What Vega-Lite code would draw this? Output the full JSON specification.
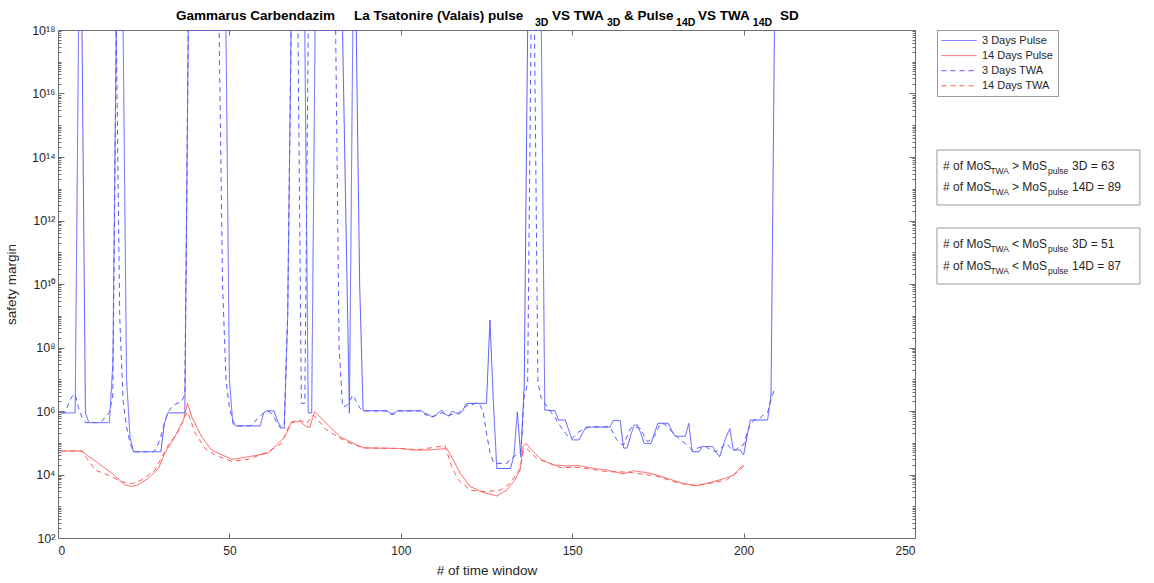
{
 "$schema": "https://vega.github.io/schema/vega-lite/v6.json",
 "width": 857, "height": 508,
 "autosize": {"type": "none"},
 "padding": {"left": 58, "top": 30, "right": 239, "bottom": 45},
 "background": "white",
 "config": {
  "view": {"stroke": null},
  "font": "Liberation Sans",
  "axis": {"grid": false, "domainColor": "#6e6e6e", "tickColor": "#6e6e6e", "labelColor": "#262626", "titleColor": "#262626", "labelFont": "Liberation Sans", "titleFont": "Liberation Sans", "labelFontSize": 12, "titleFontSize": 13.5, "titleFontWeight": "normal", "domainWidth": 1, "tickWidth": 1}
 },
 "resolve": {"axis": {"x": "independent", "y": "independent"}},
 "datasets": {
  "lines": [
   {"series":"3 Days Pulse","t":1,"mos":8.7e5},{"series":"3 Days Pulse","t":5,"mos":8.7e5},{"series":"3 Days Pulse","t":6,"mos":1e18},{"series":"3 Days Pulse","t":7,"mos":1e18},{"series":"3 Days Pulse","t":8,"mos":8.7e5},{"series":"3 Days Pulse","t":9,"mos":4.3e5},{"series":"3 Days Pulse","t":15,"mos":4.3e5},{"series":"3 Days Pulse","t":16,"mos":3.2e7},{"series":"3 Days Pulse","t":17,"mos":1e18},{"series":"3 Days Pulse","t":19,"mos":1e18},{"series":"3 Days Pulse","t":20,"mos":1e7},{"series":"3 Days Pulse","t":21,"mos":1.6e5},{"series":"3 Days Pulse","t":22,"mos":5.2e4},{"series":"3 Days Pulse","t":30,"mos":5.2e4},{"series":"3 Days Pulse","t":31,"mos":4e5},{"series":"3 Days Pulse","t":32,"mos":8.7e5},{"series":"3 Days Pulse","t":37,"mos":8.7e5},{"series":"3 Days Pulse","t":38,"mos":1e18},{"series":"3 Days Pulse","t":49,"mos":1e18},{"series":"3 Days Pulse","t":50,"mos":1e7},{"series":"3 Days Pulse","t":51,"mos":4e5},{"series":"3 Days Pulse","t":52,"mos":3.4e5},{"series":"3 Days Pulse","t":59,"mos":3.4e5},{"series":"3 Days Pulse","t":60,"mos":8.9e5},{"series":"3 Days Pulse","t":61,"mos":1.02e6},{"series":"3 Days Pulse","t":62,"mos":1.02e6},{"series":"3 Days Pulse","t":63,"mos":1e6},{"series":"3 Days Pulse","t":64,"mos":5e5},{"series":"3 Days Pulse","t":65,"mos":3.2e5},{"series":"3 Days Pulse","t":66,"mos":2.8e5},{"series":"3 Days Pulse","t":67,"mos":1e9},{"series":"3 Days Pulse","t":68,"mos":1e18},{"series":"3 Days Pulse","t":72,"mos":1e18},{"series":"3 Days Pulse","t":73,"mos":8.7e5},{"series":"3 Days Pulse","t":74,"mos":8.7e5},{"series":"3 Days Pulse","t":75,"mos":1e18},{"series":"3 Days Pulse","t":83,"mos":1e18},{"series":"3 Days Pulse","t":84,"mos":1e12},{"series":"3 Days Pulse","t":85,"mos":8.5e5},{"series":"3 Days Pulse","t":86,"mos":1e18},{"series":"3 Days Pulse","t":87,"mos":1e18},{"series":"3 Days Pulse","t":88,"mos":1e10},{"series":"3 Days Pulse","t":89,"mos":1.02e6},{"series":"3 Days Pulse","t":96,"mos":1.02e6},{"series":"3 Days Pulse","t":97,"mos":8.5e5},{"series":"3 Days Pulse","t":98,"mos":8.5e5},{"series":"3 Days Pulse","t":99,"mos":1.02e6},{"series":"3 Days Pulse","t":106,"mos":1.02e6},{"series":"3 Days Pulse","t":107,"mos":8.5e5},{"series":"3 Days Pulse","t":108,"mos":7.9e5},{"series":"3 Days Pulse","t":109,"mos":6.6e5},{"series":"3 Days Pulse","t":110,"mos":7.1e5},{"series":"3 Days Pulse","t":111,"mos":8.9e5},{"series":"3 Days Pulse","t":112,"mos":1.07e6},{"series":"3 Days Pulse","t":113,"mos":7.9e5},{"series":"3 Days Pulse","t":114,"mos":6.9e5},{"series":"3 Days Pulse","t":115,"mos":1e6},{"series":"3 Days Pulse","t":116,"mos":8.9e5},{"series":"3 Days Pulse","t":117,"mos":7.9e5},{"series":"3 Days Pulse","t":118,"mos":1e6},{"series":"3 Days Pulse","t":119,"mos":1.66e6},{"series":"3 Days Pulse","t":120,"mos":1.74e6},{"series":"3 Days Pulse","t":125,"mos":1.74e6},{"series":"3 Days Pulse","t":126,"mos":7.4e8},{"series":"3 Days Pulse","t":127,"mos":2e6},{"series":"3 Days Pulse","t":128,"mos":1.55e4},{"series":"3 Days Pulse","t":132,"mos":1.55e4},{"series":"3 Days Pulse","t":133,"mos":4e4},{"series":"3 Days Pulse","t":134,"mos":9.5e5},{"series":"3 Days Pulse","t":135,"mos":3.6e4},{"series":"3 Days Pulse","t":136,"mos":5.9e6},{"series":"3 Days Pulse","t":137,"mos":1e18},{"series":"3 Days Pulse","t":141,"mos":1e18},{"series":"3 Days Pulse","t":142,"mos":1.07e6},{"series":"3 Days Pulse","t":145,"mos":1.02e6},{"series":"3 Days Pulse","t":146,"mos":5.2e5},{"series":"3 Days Pulse","t":148,"mos":5.2e5},{"series":"3 Days Pulse","t":149,"mos":2.5e5},{"series":"3 Days Pulse","t":150,"mos":1.23e5},{"series":"3 Days Pulse","t":152,"mos":1.23e5},{"series":"3 Days Pulse","t":153,"mos":2e5},{"series":"3 Days Pulse","t":154,"mos":3.1e5},{"series":"3 Days Pulse","t":161,"mos":3.1e5},{"series":"3 Days Pulse","t":162,"mos":5e5},{"series":"3 Days Pulse","t":164,"mos":5e5},{"series":"3 Days Pulse","t":165,"mos":6.8e4},{"series":"3 Days Pulse","t":166,"mos":6.8e4},{"series":"3 Days Pulse","t":167,"mos":1.6e5},{"series":"3 Days Pulse","t":168,"mos":3.6e5},{"series":"3 Days Pulse","t":169,"mos":3.6e5},{"series":"3 Days Pulse","t":170,"mos":2e5},{"series":"3 Days Pulse","t":171,"mos":9.5e4},{"series":"3 Days Pulse","t":173,"mos":9.5e4},{"series":"3 Days Pulse","t":174,"mos":2e5},{"series":"3 Days Pulse","t":175,"mos":4.1e5},{"series":"3 Days Pulse","t":178,"mos":4.1e5},{"series":"3 Days Pulse","t":179,"mos":2.5e5},{"series":"3 Days Pulse","t":180,"mos":1.6e5},{"series":"3 Days Pulse","t":183,"mos":1.6e5},{"series":"3 Days Pulse","t":184,"mos":4.1e5},{"series":"3 Days Pulse","t":185,"mos":5.2e4},{"series":"3 Days Pulse","t":187,"mos":5.2e4},{"series":"3 Days Pulse","t":188,"mos":7.6e4},{"series":"3 Days Pulse","t":191,"mos":7.6e4},{"series":"3 Days Pulse","t":192,"mos":5e4},{"series":"3 Days Pulse","t":193,"mos":3.6e4},{"series":"3 Days Pulse","t":194,"mos":7.9e4},{"series":"3 Days Pulse","t":195,"mos":1.6e5},{"series":"3 Days Pulse","t":196,"mos":2.8e5},{"series":"3 Days Pulse","t":197,"mos":5.9e4},{"series":"3 Days Pulse","t":199,"mos":5.9e4},{"series":"3 Days Pulse","t":200,"mos":4.1e4},{"series":"3 Days Pulse","t":201,"mos":1.6e5},{"series":"3 Days Pulse","t":202,"mos":5.2e5},{"series":"3 Days Pulse","t":207,"mos":5.2e5},{"series":"3 Days Pulse","t":208,"mos":3.2e6},{"series":"3 Days Pulse","t":209,"mos":1e18},

   {"series":"14 Days Pulse","t":1,"mos":5.5e4},{"series":"14 Days Pulse","t":7,"mos":5.5e4},{"series":"14 Days Pulse","t":8.4,"mos":4.1e4},{"series":"14 Days Pulse","t":11.8,"mos":2.24e4},{"series":"14 Days Pulse","t":15.7,"mos":1.1e4},{"series":"14 Days Pulse","t":19.5,"mos":4.7e3},{"series":"14 Days Pulse","t":21.5,"mos":4.2e3},{"series":"14 Days Pulse","t":23.4,"mos":4.7e3},{"series":"14 Days Pulse","t":26.3,"mos":7.6e3},{"series":"14 Days Pulse","t":29.3,"mos":1.55e4},{"series":"14 Days Pulse","t":31.2,"mos":4.7e4},{"series":"14 Days Pulse","t":34.1,"mos":1.55e5},{"series":"14 Days Pulse","t":36.6,"mos":5.2e5},{"series":"14 Days Pulse","t":37.8,"mos":1.74e6},{"series":"14 Days Pulse","t":39,"mos":6.6e5},{"series":"14 Days Pulse","t":41.9,"mos":1.55e5},{"series":"14 Days Pulse","t":44.8,"mos":5.9e4},{"series":"14 Days Pulse","t":50.7,"mos":3e4},{"series":"14 Days Pulse","t":55.5,"mos":3.6e4},{"series":"14 Days Pulse","t":61.3,"mos":4.7e4},{"series":"14 Days Pulse","t":66.2,"mos":1.55e5},{"series":"14 Days Pulse","t":68.2,"mos":4.6e5},{"series":"14 Days Pulse","t":70.6,"mos":4.6e5},{"series":"14 Days Pulse","t":72.5,"mos":3.2e5},{"series":"14 Days Pulse","t":73.5,"mos":3.1e5},{"series":"14 Days Pulse","t":74.8,"mos":9.5e5},{"series":"14 Days Pulse","t":77.4,"mos":5.2e5},{"series":"14 Days Pulse","t":80.3,"mos":2.5e5},{"series":"14 Days Pulse","t":82.3,"mos":1.55e5},{"series":"14 Days Pulse","t":85.2,"mos":1.07e5},{"series":"14 Days Pulse","t":89.1,"mos":6.9e4},{"series":"14 Days Pulse","t":99.8,"mos":6.6e4},{"series":"14 Days Pulse","t":103.7,"mos":5.9e4},{"series":"14 Days Pulse","t":108,"mos":5.9e4},{"series":"14 Days Pulse","t":113.4,"mos":6.6e4},{"series":"14 Days Pulse","t":115.3,"mos":2.9e4},{"series":"14 Days Pulse","t":117.3,"mos":1.1e4},{"series":"14 Days Pulse","t":120.2,"mos":4.2e3},{"series":"14 Days Pulse","t":124.1,"mos":2.7e3},{"series":"14 Days Pulse","t":128,"mos":2.1e3},{"series":"14 Days Pulse","t":130.9,"mos":3.2e3},{"series":"14 Days Pulse","t":133.3,"mos":6.8e3},{"series":"14 Days Pulse","t":134.8,"mos":1.38e4},{"series":"14 Days Pulse","t":135.7,"mos":7.6e4},{"series":"14 Days Pulse","t":136.5,"mos":9.5e4},{"series":"14 Days Pulse","t":138.7,"mos":5.2e4},{"series":"14 Days Pulse","t":141.1,"mos":2.9e4},{"series":"14 Days Pulse","t":144.5,"mos":2e4},{"series":"14 Days Pulse","t":148.4,"mos":1.86e4},{"series":"14 Days Pulse","t":152,"mos":1.9e4},{"series":"14 Days Pulse","t":156.2,"mos":1.55e4},{"series":"14 Days Pulse","t":160.1,"mos":1.38e4},{"series":"14 Days Pulse","t":164.9,"mos":1.05e4},{"series":"14 Days Pulse","t":167.8,"mos":1.32e4},{"series":"14 Days Pulse","t":172.7,"mos":1.1e4},{"series":"14 Days Pulse","t":177.6,"mos":7.6e3},{"series":"14 Days Pulse","t":182.4,"mos":5.2e3},{"series":"14 Days Pulse","t":186.3,"mos":4.4e3},{"series":"14 Days Pulse","t":189.2,"mos":5.2e3},{"series":"14 Days Pulse","t":193.1,"mos":6.8e3},{"series":"14 Days Pulse","t":197,"mos":9.5e3},{"series":"14 Days Pulse","t":199.9,"mos":2e4},

   {"series":"3 Days TWA","t":1,"mos":8.7e5},{"series":"3 Days TWA","t":2,"mos":8.7e5},{"series":"3 Days TWA","t":3,"mos":1.6e6},{"series":"3 Days TWA","t":4,"mos":2.8e6},{"series":"3 Days TWA","t":5,"mos":3.4e6},{"series":"3 Days TWA","t":6,"mos":1.26e6},{"series":"3 Days TWA","t":7,"mos":6.3e5},{"series":"3 Days TWA","t":8,"mos":4.3e5},{"series":"3 Days TWA","t":12,"mos":4.3e5},{"series":"3 Days TWA","t":13,"mos":5e5},{"series":"3 Days TWA","t":14,"mos":7.1e5},{"series":"3 Days TWA","t":15,"mos":8.9e5},{"series":"3 Days TWA","t":16,"mos":3.2e6},{"series":"3 Days TWA","t":17,"mos":1e18},{"series":"3 Days TWA","t":18,"mos":1e9},{"series":"3 Days TWA","t":19,"mos":2e6},{"series":"3 Days TWA","t":20,"mos":3.2e5},{"series":"3 Days TWA","t":21,"mos":1e5},{"series":"3 Days TWA","t":22,"mos":5.2e4},{"series":"3 Days TWA","t":28,"mos":5.2e4},{"series":"3 Days TWA","t":29,"mos":7.9e4},{"series":"3 Days TWA","t":30,"mos":1.6e5},{"series":"3 Days TWA","t":31,"mos":4e5},{"series":"3 Days TWA","t":32,"mos":8.7e5},{"series":"3 Days TWA","t":33,"mos":1.26e6},{"series":"3 Days TWA","t":34,"mos":1.6e6},{"series":"3 Days TWA","t":35,"mos":1.8e6},{"series":"3 Days TWA","t":36,"mos":1.95e6},{"series":"3 Days TWA","t":37,"mos":3.2e6},{"series":"3 Days TWA","t":38,"mos":1e18},{"series":"3 Days TWA","t":47,"mos":1e18},{"series":"3 Days TWA","t":48,"mos":1e10},{"series":"3 Days TWA","t":49,"mos":1e7},{"series":"3 Days TWA","t":50,"mos":1.26e6},{"series":"3 Days TWA","t":51,"mos":5e5},{"series":"3 Days TWA","t":52,"mos":3.4e5},{"series":"3 Days TWA","t":56,"mos":3.4e5},{"series":"3 Days TWA","t":57,"mos":4e5},{"series":"3 Days TWA","t":58,"mos":5.6e5},{"series":"3 Days TWA","t":59,"mos":7.1e5},{"series":"3 Days TWA","t":60,"mos":8.5e5},{"series":"3 Days TWA","t":61,"mos":1e6},{"series":"3 Days TWA","t":62,"mos":8.9e5},{"series":"3 Days TWA","t":63,"mos":6.3e5},{"series":"3 Days TWA","t":64,"mos":4e5},{"series":"3 Days TWA","t":65,"mos":2.8e5},{"series":"3 Days TWA","t":66,"mos":4e5},{"series":"3 Days TWA","t":67,"mos":1e9},{"series":"3 Days TWA","t":68,"mos":1e18},{"series":"3 Days TWA","t":70,"mos":1e18},{"series":"3 Days TWA","t":71,"mos":1.74e6},{"series":"3 Days TWA","t":72,"mos":1.74e6},{"series":"3 Days TWA","t":73,"mos":1e18},{"series":"3 Days TWA","t":81,"mos":1e18},{"series":"3 Days TWA","t":82,"mos":1e8},{"series":"3 Days TWA","t":83,"mos":1.4e6},{"series":"3 Days TWA","t":84,"mos":1.4e6},{"series":"3 Days TWA","t":85,"mos":2e6},{"series":"3 Days TWA","t":86,"mos":3.2e6},{"series":"3 Days TWA","t":87,"mos":2e6},{"series":"3 Days TWA","t":88,"mos":1.26e6},{"series":"3 Days TWA","t":89,"mos":1e6},{"series":"3 Days TWA","t":96,"mos":1e6},{"series":"3 Days TWA","t":97,"mos":7.9e5},{"series":"3 Days TWA","t":98,"mos":7.9e5},{"series":"3 Days TWA","t":99,"mos":1e6},{"series":"3 Days TWA","t":106,"mos":1e6},{"series":"3 Days TWA","t":107,"mos":7.9e5},{"series":"3 Days TWA","t":108,"mos":7.1e5},{"series":"3 Days TWA","t":109,"mos":6.3e5},{"series":"3 Days TWA","t":110,"mos":7.1e5},{"series":"3 Days TWA","t":111,"mos":7.9e5},{"series":"3 Days TWA","t":112,"mos":8.9e5},{"series":"3 Days TWA","t":113,"mos":7.9e5},{"series":"3 Days TWA","t":114,"mos":7.1e5},{"series":"3 Days TWA","t":115,"mos":7.9e5},{"series":"3 Days TWA","t":116,"mos":7.9e5},{"series":"3 Days TWA","t":117,"mos":8.9e5},{"series":"3 Days TWA","t":118,"mos":1.12e6},{"series":"3 Days TWA","t":119,"mos":1.4e6},{"series":"3 Days TWA","t":120,"mos":1.6e6},{"series":"3 Days TWA","t":121,"mos":1.6e6},{"series":"3 Days TWA","t":122,"mos":1.8e6},{"series":"3 Days TWA","t":123,"mos":1.6e6},{"series":"3 Days TWA","t":124,"mos":1e6},{"series":"3 Days TWA","t":125,"mos":2e5},{"series":"3 Days TWA","t":126,"mos":5e4},{"series":"3 Days TWA","t":127,"mos":2.5e4},{"series":"3 Days TWA","t":128,"mos":2.24e4},{"series":"3 Days TWA","t":131,"mos":2.24e4},{"series":"3 Days TWA","t":132,"mos":3.2e4},{"series":"3 Days TWA","t":133,"mos":3.6e4},{"series":"3 Days TWA","t":134,"mos":4.5e4},{"series":"3 Days TWA","t":135,"mos":5.2e4},{"series":"3 Days TWA","t":136,"mos":2.8e6},{"series":"3 Days TWA","t":137,"mos":7.6e6},{"series":"3 Days TWA","t":138,"mos":1e18},{"series":"3 Days TWA","t":139,"mos":1e18},{"series":"3 Days TWA","t":140,"mos":7.9e6},{"series":"3 Days TWA","t":141,"mos":2.5e6},{"series":"3 Days TWA","t":142,"mos":1.74e6},{"series":"3 Days TWA","t":143,"mos":1.26e6},{"series":"3 Days TWA","t":144,"mos":8.5e5},{"series":"3 Days TWA","t":145,"mos":6.3e5},{"series":"3 Days TWA","t":146,"mos":4e5},{"series":"3 Days TWA","t":147,"mos":2.8e5},{"series":"3 Days TWA","t":148,"mos":2e5},{"series":"3 Days TWA","t":149,"mos":1.5e5},{"series":"3 Days TWA","t":150,"mos":1.38e5},{"series":"3 Days TWA","t":151,"mos":1.78e5},{"series":"3 Days TWA","t":152,"mos":2.24e5},{"series":"3 Days TWA","t":153,"mos":2.5e5},{"series":"3 Days TWA","t":154,"mos":2.8e5},{"series":"3 Days TWA","t":155,"mos":3.2e5},{"series":"3 Days TWA","t":161,"mos":3.2e5},{"series":"3 Days TWA","t":162,"mos":2e5},{"series":"3 Days TWA","t":163,"mos":1.26e5},{"series":"3 Days TWA","t":164,"mos":9.5e4},{"series":"3 Days TWA","t":165,"mos":8.5e4},{"series":"3 Days TWA","t":166,"mos":1.6e5},{"series":"3 Days TWA","t":167,"mos":2.8e5},{"series":"3 Days TWA","t":168,"mos":3.2e5},{"series":"3 Days TWA","t":169,"mos":3e5},{"series":"3 Days TWA","t":170,"mos":2.8e5},{"series":"3 Days TWA","t":171,"mos":1.6e5},{"series":"3 Days TWA","t":172,"mos":1.07e5},{"series":"3 Days TWA","t":173,"mos":1.26e5},{"series":"3 Days TWA","t":174,"mos":1.6e5},{"series":"3 Days TWA","t":175,"mos":2.8e5},{"series":"3 Days TWA","t":176,"mos":4.1e5},{"series":"3 Days TWA","t":177,"mos":3.8e5},{"series":"3 Days TWA","t":178,"mos":3.2e5},{"series":"3 Days TWA","t":179,"mos":2.24e5},{"series":"3 Days TWA","t":180,"mos":1.78e5},{"series":"3 Days TWA","t":181,"mos":1.41e5},{"series":"3 Days TWA","t":182,"mos":1.12e5},{"series":"3 Days TWA","t":183,"mos":9.5e4},{"series":"3 Days TWA","t":184,"mos":7.6e4},{"series":"3 Days TWA","t":185,"mos":5.9e4},{"series":"3 Days TWA","t":186,"mos":6.3e4},{"series":"3 Days TWA","t":187,"mos":7.1e4},{"series":"3 Days TWA","t":188,"mos":7.6e4},{"series":"3 Days TWA","t":189,"mos":7.6e4},{"series":"3 Days TWA","t":190,"mos":6.3e4},{"series":"3 Days TWA","t":191,"mos":5.6e4},{"series":"3 Days TWA","t":192,"mos":5.2e4},{"series":"3 Days TWA","t":193,"mos":6.3e4},{"series":"3 Days TWA","t":194,"mos":7.9e4},{"series":"3 Days TWA","t":195,"mos":9.5e4},{"series":"3 Days TWA","t":196,"mos":7.1e4},{"series":"3 Days TWA","t":197,"mos":5.6e4},{"series":"3 Days TWA","t":198,"mos":6.3e4},{"series":"3 Days TWA","t":199,"mos":7.9e4},{"series":"3 Days TWA","t":200,"mos":8.5e4},{"series":"3 Days TWA","t":201,"mos":2e5},{"series":"3 Days TWA","t":202,"mos":4.1e5},{"series":"3 Days TWA","t":203,"mos":5e5},{"series":"3 Days TWA","t":204,"mos":5.6e5},{"series":"3 Days TWA","t":205,"mos":6.3e5},{"series":"3 Days TWA","t":206,"mos":7.9e5},{"series":"3 Days TWA","t":207,"mos":8.9e5},{"series":"3 Days TWA","t":208,"mos":2.24e6},{"series":"3 Days TWA","t":209,"mos":5e6},

   {"series":"14 Days TWA","t":1,"mos":5.5e4},{"series":"14 Days TWA","t":7,"mos":5.5e4},{"series":"14 Days TWA","t":8.4,"mos":3.2e4},{"series":"14 Days TWA","t":10.9,"mos":1.38e4},{"series":"14 Days TWA","t":14.7,"mos":9.5e3},{"series":"14 Days TWA","t":18.6,"mos":5.9e3},{"series":"14 Days TWA","t":21.5,"mos":5.2e3},{"series":"14 Days TWA","t":24.4,"mos":6.8e3},{"series":"14 Days TWA","t":28.3,"mos":1.38e4},{"series":"14 Days TWA","t":32.2,"mos":8.5e4},{"series":"14 Days TWA","t":35.1,"mos":2.24e5},{"series":"14 Days TWA","t":37,"mos":6.6e5},{"series":"14 Days TWA","t":37.8,"mos":9.5e5},{"series":"14 Days TWA","t":40,"mos":2e5},{"series":"14 Days TWA","t":42.9,"mos":6.6e4},{"series":"14 Days TWA","t":45.8,"mos":4.1e4},{"series":"14 Days TWA","t":50.7,"mos":2.6e4},{"series":"14 Days TWA","t":55.5,"mos":3e4},{"series":"14 Days TWA","t":61.3,"mos":5.2e4},{"series":"14 Days TWA","t":65.2,"mos":9.5e4},{"series":"14 Days TWA","t":67.7,"mos":4.1e5},{"series":"14 Days TWA","t":70.6,"mos":5.2e5},{"series":"14 Days TWA","t":72.5,"mos":4e5},{"series":"14 Days TWA","t":74.5,"mos":7.4e5},{"series":"14 Days TWA","t":78.4,"mos":2.5e5},{"series":"14 Days TWA","t":84.2,"mos":1.07e5},{"series":"14 Days TWA","t":89,"mos":6.9e4},{"series":"14 Days TWA","t":100,"mos":6.6e4},{"series":"14 Days TWA","t":105,"mos":6e4},{"series":"14 Days TWA","t":112.9,"mos":8.1e4},{"series":"14 Days TWA","t":114.8,"mos":1.78e4},{"series":"14 Days TWA","t":116.8,"mos":6.8e3},{"series":"14 Days TWA","t":120.2,"mos":3.2e3},{"series":"14 Days TWA","t":124,"mos":2.9e3},{"series":"14 Days TWA","t":129,"mos":3.2e3},{"series":"14 Days TWA","t":131.9,"mos":5.2e3},{"series":"14 Days TWA","t":134.8,"mos":1.55e4},{"series":"14 Days TWA","t":135.7,"mos":5.2e4},{"series":"14 Days TWA","t":136.7,"mos":6.6e4},{"series":"14 Days TWA","t":139.6,"mos":3.2e4},{"series":"14 Days TWA","t":143.5,"mos":2.24e4},{"series":"14 Days TWA","t":146.4,"mos":1.66e4},{"series":"14 Days TWA","t":152.3,"mos":1.66e4},{"series":"14 Days TWA","t":160.1,"mos":1.23e4},{"series":"14 Days TWA","t":166,"mos":1.2e4},{"series":"14 Days TWA","t":174.6,"mos":8.9e3},{"series":"14 Days TWA","t":181.4,"mos":5.2e3},{"series":"14 Days TWA","t":186,"mos":4.6e3},{"series":"14 Days TWA","t":191.2,"mos":5.5e3},{"series":"14 Days TWA","t":195.1,"mos":6.8e3},{"series":"14 Days TWA","t":198.9,"mos":1.38e4},{"series":"14 Days TWA","t":200,"mos":1.86e4}
  ]
 },
 "layer": [
  {
   "data": {"name": "lines"},
   "mark": {"type": "line", "strokeWidth": 1, "clip": true},
   "encoding": {
    "x": {"field": "t", "type": "quantitative", "scale": {"domain": [0, 250], "nice": false},
          "axis": {"orient": "bottom", "values": [0, 50, 100, 150, 200, 250], "title": "# of time window", "tickSize": -5, "labelPadding": 12, "titlePadding": 7}},
    "y": {"field": "mos", "type": "quantitative", "scale": {"type": "log", "domain": [100, 1e18], "nice": false},
          "axis": {"orient": "left", "title": "safety margin", "titlePadding": 13, "labelPadding": 9, "labelFontSize": 12.5,
                   "values": [1e2,2e2,3e2,4e2,5e2,6e2,7e2,8e2,9e2,1e3,2e3,3e3,4e3,5e3,6e3,7e3,8e3,9e3,1e4,2e4,3e4,4e4,5e4,6e4,7e4,8e4,9e4,1e5,2e5,3e5,4e5,5e5,6e5,7e5,8e5,9e5,1e6,2e6,3e6,4e6,5e6,6e6,7e6,8e6,9e6,1e7,2e7,3e7,4e7,5e7,6e7,7e7,8e7,9e7,1e8,2e8,3e8,4e8,5e8,6e8,7e8,8e8,9e8,1e9,2e9,3e9,4e9,5e9,6e9,7e9,8e9,9e9,1e10,2e10,3e10,4e10,5e10,6e10,7e10,8e10,9e10,1e11,2e11,3e11,4e11,5e11,6e11,7e11,8e11,9e11,1e12,2e12,3e12,4e12,5e12,6e12,7e12,8e12,9e12,1e13,2e13,3e13,4e13,5e13,6e13,7e13,8e13,9e13,1e14,2e14,3e14,4e14,5e14,6e14,7e14,8e14,9e14,1e15,2e15,3e15,4e15,5e15,6e15,7e15,8e15,9e15,1e16,2e16,3e16,4e16,5e16,6e16,7e16,8e16,9e16,1e17,2e17,3e17,4e17,5e17,6e17,7e17,8e17,9e17,1e18],
                   "labelExpr": "datum.value === 1e2 ? '10²' : datum.value === 1e4 ? '10⁴' : datum.value === 1e6 ? '10⁶' : datum.value === 1e8 ? '10⁸' : datum.value === 1e10 ? '10¹⁰' : datum.value === 1e12 ? '10¹²' : datum.value === 1e14 ? '10¹⁴' : datum.value === 1e16 ? '10¹⁶' : datum.value === 1e18 ? '10¹⁸' : ''",
                   "tickSize": {"condition": {"test": "indexof([1e2,1e4,1e6,1e8,1e10,1e12,1e14,1e16,1e18], datum.value) >= 0", "value": -6}, "value": -3}}},
    "color": {"field": "series", "type": "nominal",
              "scale": {"domain": ["3 Days Pulse", "14 Days Pulse", "3 Days TWA", "14 Days TWA"], "range": ["#5858ff", "#ff5858", "#5858ff", "#ff5858"]},
              "legend": {"orient": "none", "legendX": 879, "legendY": 0, "title": null, "symbolType": "M-1.2,0H5.8", "symbolSize": 100, "symbolStrokeWidth": 1, "symbolFillColor": "transparent", "labelFontSize": 11, "labelColor": "#262626", "labelFont": "Liberation Sans", "strokeColor": "#999999", "fillColor": "white", "padding": 5, "rowPadding": 3.1, "labelOffset": 29}},
    "strokeDash": {"field": "series", "type": "nominal",
              "scale": {"domain": ["3 Days Pulse", "14 Days Pulse", "3 Days TWA", "14 Days TWA"], "range": [[1, 0], [1, 0], [5, 4], [5, 4]]},
              "legend": {"orient": "none", "legendX": 879, "legendY": 0, "title": null, "symbolType": "M-1.2,0H5.8", "symbolSize": 100, "symbolStrokeWidth": 1, "symbolFillColor": "transparent", "labelFontSize": 11, "labelColor": "#262626", "labelFont": "Liberation Sans", "strokeColor": "#999999", "fillColor": "white", "padding": 5, "rowPadding": 3.1, "labelOffset": 29}}
   }
  },
  {
   "data": {"values": [{}]},
   "mark": {"type": "point", "opacity": 0},
   "encoding": {
    "x": {"datum": 0, "type": "quantitative", "scale": {"domain": [0, 250], "nice": false},
          "axis": {"orient": "top", "values": [0, 50, 100, 150, 200, 250], "labels": false, "title": null, "tickSize": -5}},
    "y": {"datum": 100, "type": "quantitative", "scale": {"type": "log", "domain": [100, 1e18], "nice": false},
          "axis": {"orient": "right", "labels": false, "title": null,
                   "values": [1e2,2e2,3e2,4e2,5e2,6e2,7e2,8e2,9e2,1e3,2e3,3e3,4e3,5e3,6e3,7e3,8e3,9e3,1e4,2e4,3e4,4e4,5e4,6e4,7e4,8e4,9e4,1e5,2e5,3e5,4e5,5e5,6e5,7e5,8e5,9e5,1e6,2e6,3e6,4e6,5e6,6e6,7e6,8e6,9e6,1e7,2e7,3e7,4e7,5e7,6e7,7e7,8e7,9e7,1e8,2e8,3e8,4e8,5e8,6e8,7e8,8e8,9e8,1e9,2e9,3e9,4e9,5e9,6e9,7e9,8e9,9e9,1e10,2e10,3e10,4e10,5e10,6e10,7e10,8e10,9e10,1e11,2e11,3e11,4e11,5e11,6e11,7e11,8e11,9e11,1e12,2e12,3e12,4e12,5e12,6e12,7e12,8e12,9e12,1e13,2e13,3e13,4e13,5e13,6e13,7e13,8e13,9e13,1e14,2e14,3e14,4e14,5e14,6e14,7e14,8e14,9e14,1e15,2e15,3e15,4e15,5e15,6e15,7e15,8e15,9e15,1e16,2e16,3e16,4e16,5e16,6e16,7e16,8e16,9e16,1e17,2e17,3e17,4e17,5e17,6e17,7e17,8e17,9e17,1e18],
                   "tickSize": {"condition": {"test": "indexof([1e2,1e4,1e6,1e8,1e10,1e12,1e14,1e16,1e18], datum.value) >= 0", "value": -6}, "value": -3}}}
   }
  },
  {"data": {"values": [{}]}, "mark": {"type": "rect", "fill": "white", "stroke": "#999999", "strokeWidth": 1},
   "encoding": {"x": {"datum": 256.4, "type": "quantitative", "scale": {"domain": [0, 250], "nice": false}, "axis": null}, "x2": {"datum": 315.6},
                "y": {"datum": 1.66e14, "type": "quantitative", "scale": {"type": "log", "domain": [100, 1e18], "nice": false}, "axis": null}, "y2": {"datum": 3.08e12}}},
  {"data": {"values": [{}]}, "mark": {"type": "rect", "fill": "white", "stroke": "#999999", "strokeWidth": 1},
   "encoding": {"x": {"datum": 256.4, "type": "quantitative", "scale": {"domain": [0, 250], "nice": false}, "axis": null}, "x2": {"datum": 315.6},
                "y": {"datum": 5.8e11, "type": "quantitative", "scale": {"type": "log", "domain": [100, 1e18], "nice": false}, "axis": null}, "y2": {"datum": 1e10}}},

  {"data": {"values": [{}]}, "mark": {"type": "text", "text": ["# of MoS", "# of MoS"], "lineHeight": 21, "align": "left", "baseline": "alphabetic", "fontSize": 12, "color": "#262626"},
   "encoding": {"x": {"datum": 258.2, "type": "quantitative", "scale": {"domain": [0, 250], "nice": false}, "axis": null},
                "y": {"datum": 3.9e13, "type": "quantitative", "scale": {"type": "log", "domain": [100, 1e18], "nice": false}, "axis": null}}},
  {"data": {"values": [{}]}, "mark": {"type": "text", "text": ["TWA", "TWA"], "lineHeight": 21, "align": "left", "baseline": "alphabetic", "fontSize": 8.5, "color": "#262626"},
   "encoding": {"x": {"datum": 272.0, "type": "quantitative", "scale": {"domain": [0, 250], "nice": false}, "axis": null},
                "y": {"datum": 2.92e13, "type": "quantitative", "scale": {"type": "log", "domain": [100, 1e18], "nice": false}, "axis": null}}},
  {"data": {"values": [{}]}, "mark": {"type": "text", "text": ["> MoS", "> MoS"], "lineHeight": 21, "align": "left", "baseline": "alphabetic", "fontSize": 12, "color": "#262626"},
   "encoding": {"x": {"datum": 278.3, "type": "quantitative", "scale": {"domain": [0, 250], "nice": false}, "axis": null},
                "y": {"datum": 3.9e13, "type": "quantitative", "scale": {"type": "log", "domain": [100, 1e18], "nice": false}, "axis": null}}},
  {"data": {"values": [{}]}, "mark": {"type": "text", "text": ["pulse", "pulse"], "lineHeight": 21, "align": "left", "baseline": "alphabetic", "fontSize": 8.5, "color": "#262626"},
   "encoding": {"x": {"datum": 288.8, "type": "quantitative", "scale": {"domain": [0, 250], "nice": false}, "axis": null},
                "y": {"datum": 2.92e13, "type": "quantitative", "scale": {"type": "log", "domain": [100, 1e18], "nice": false}, "axis": null}}},
  {"data": {"values": [{}]}, "mark": {"type": "text", "text": ["3D = 63", "14D = 89"], "lineHeight": 21, "align": "left", "baseline": "alphabetic", "fontSize": 12, "color": "#262626"},
   "encoding": {"x": {"datum": 295.8, "type": "quantitative", "scale": {"domain": [0, 250], "nice": false}, "axis": null},
                "y": {"datum": 3.9e13, "type": "quantitative", "scale": {"type": "log", "domain": [100, 1e18], "nice": false}, "axis": null}}},

  {"data": {"values": [{}]}, "mark": {"type": "text", "text": ["# of MoS", "# of MoS"], "lineHeight": 22, "align": "left", "baseline": "alphabetic", "fontSize": 12, "color": "#262626"},
   "encoding": {"x": {"datum": 258.2, "type": "quantitative", "scale": {"domain": [0, 250], "nice": false}, "axis": null},
                "y": {"datum": 1.36e11, "type": "quantitative", "scale": {"type": "log", "domain": [100, 1e18], "nice": false}, "axis": null}}},
  {"data": {"values": [{}]}, "mark": {"type": "text", "text": ["TWA", "TWA"], "lineHeight": 22, "align": "left", "baseline": "alphabetic", "fontSize": 8.5, "color": "#262626"},
   "encoding": {"x": {"datum": 272.0, "type": "quantitative", "scale": {"domain": [0, 250], "nice": false}, "axis": null},
                "y": {"datum": 1.02e11, "type": "quantitative", "scale": {"type": "log", "domain": [100, 1e18], "nice": false}, "axis": null}}},
  {"data": {"values": [{}]}, "mark": {"type": "text", "text": ["< MoS", "< MoS"], "lineHeight": 22, "align": "left", "baseline": "alphabetic", "fontSize": 12, "color": "#262626"},
   "encoding": {"x": {"datum": 278.3, "type": "quantitative", "scale": {"domain": [0, 250], "nice": false}, "axis": null},
                "y": {"datum": 1.36e11, "type": "quantitative", "scale": {"type": "log", "domain": [100, 1e18], "nice": false}, "axis": null}}},
  {"data": {"values": [{}]}, "mark": {"type": "text", "text": ["pulse", "pulse"], "lineHeight": 22, "align": "left", "baseline": "alphabetic", "fontSize": 8.5, "color": "#262626"},
   "encoding": {"x": {"datum": 288.8, "type": "quantitative", "scale": {"domain": [0, 250], "nice": false}, "axis": null},
                "y": {"datum": 1.02e11, "type": "quantitative", "scale": {"type": "log", "domain": [100, 1e18], "nice": false}, "axis": null}}},
  {"data": {"values": [{}]}, "mark": {"type": "text", "text": ["3D = 51", "14D = 87"], "lineHeight": 22, "align": "left", "baseline": "alphabetic", "fontSize": 12, "color": "#262626"},
   "encoding": {"x": {"datum": 295.8, "type": "quantitative", "scale": {"domain": [0, 250], "nice": false}, "axis": null},
                "y": {"datum": 1.36e11, "type": "quantitative", "scale": {"type": "log", "domain": [100, 1e18], "nice": false}, "axis": null}}},

  {"data": {"values": [{}]}, "mark": {"type": "text", "text": "Gammarus Carbendazim", "align": "left", "baseline": "alphabetic", "fontSize": 13.5, "fontWeight": "bold", "color": "#000000"},
   "encoding": {"x": {"datum": 34.4, "type": "quantitative", "scale": {"domain": [0, 250], "nice": false}, "axis": null},
                "y": {"datum": 2.07e18, "type": "quantitative", "scale": {"type": "log", "domain": [100, 1e18], "nice": false}, "axis": null}}},
  {"data": {"values": [{}]}, "mark": {"type": "text", "text": "La Tsatonire (Valais) pulse", "align": "left", "baseline": "alphabetic", "fontSize": 13.5, "fontWeight": "bold", "color": "#000000"},
   "encoding": {"x": {"datum": 86.35, "type": "quantitative", "scale": {"domain": [0, 250], "nice": false}, "axis": null},
                "y": {"datum": 2.07e18, "type": "quantitative", "scale": {"type": "log", "domain": [100, 1e18], "nice": false}, "axis": null}}},
  {"data": {"values": [{}]}, "mark": {"type": "text", "text": "3D", "align": "left", "baseline": "alphabetic", "fontSize": 10.5, "fontWeight": "bold", "color": "#000000"},
   "encoding": {"x": {"datum": 139.15, "type": "quantitative", "scale": {"domain": [0, 250], "nice": false}, "axis": null},
                "y": {"datum": 1.34e18, "type": "quantitative", "scale": {"type": "log", "domain": [100, 1e18], "nice": false}, "axis": null}}},
  {"data": {"values": [{}]}, "mark": {"type": "text", "text": "VS TWA", "align": "left", "baseline": "alphabetic", "fontSize": 13.5, "fontWeight": "bold", "color": "#000000"},
   "encoding": {"x": {"datum": 144.1, "type": "quantitative", "scale": {"domain": [0, 250], "nice": false}, "axis": null},
                "y": {"datum": 2.07e18, "type": "quantitative", "scale": {"type": "log", "domain": [100, 1e18], "nice": false}, "axis": null}}},
  {"data": {"values": [{}]}, "mark": {"type": "text", "text": "3D", "align": "left", "baseline": "alphabetic", "fontSize": 10.5, "fontWeight": "bold", "color": "#000000"},
   "encoding": {"x": {"datum": 160.15, "type": "quantitative", "scale": {"domain": [0, 250], "nice": false}, "axis": null},
                "y": {"datum": 1.34e18, "type": "quantitative", "scale": {"type": "log", "domain": [100, 1e18], "nice": false}, "axis": null}}},
  {"data": {"values": [{}]}, "mark": {"type": "text", "text": "& Pulse", "align": "left", "baseline": "alphabetic", "fontSize": 13.5, "fontWeight": "bold", "color": "#000000"},
   "encoding": {"x": {"datum": 165.1, "type": "quantitative", "scale": {"domain": [0, 250], "nice": false}, "axis": null},
                "y": {"datum": 2.07e18, "type": "quantitative", "scale": {"type": "log", "domain": [100, 1e18], "nice": false}, "axis": null}}},
  {"data": {"values": [{}]}, "mark": {"type": "text", "text": "14D", "align": "left", "baseline": "alphabetic", "fontSize": 10.5, "fontWeight": "bold", "color": "#000000"},
   "encoding": {"x": {"datum": 180.3, "type": "quantitative", "scale": {"domain": [0, 250], "nice": false}, "axis": null},
                "y": {"datum": 1.34e18, "type": "quantitative", "scale": {"type": "log", "domain": [100, 1e18], "nice": false}, "axis": null}}},
  {"data": {"values": [{}]}, "mark": {"type": "text", "text": "VS TWA", "align": "left", "baseline": "alphabetic", "fontSize": 13.5, "fontWeight": "bold", "color": "#000000"},
   "encoding": {"x": {"datum": 186.7, "type": "quantitative", "scale": {"domain": [0, 250], "nice": false}, "axis": null},
                "y": {"datum": 2.07e18, "type": "quantitative", "scale": {"type": "log", "domain": [100, 1e18], "nice": false}, "axis": null}}},
  {"data": {"values": [{}]}, "mark": {"type": "text", "text": "14D", "align": "left", "baseline": "alphabetic", "fontSize": 10.5, "fontWeight": "bold", "color": "#000000"},
   "encoding": {"x": {"datum": 202.7, "type": "quantitative", "scale": {"domain": [0, 250], "nice": false}, "axis": null},
                "y": {"datum": 1.34e18, "type": "quantitative", "scale": {"type": "log", "domain": [100, 1e18], "nice": false}, "axis": null}}},
  {"data": {"values": [{}]}, "mark": {"type": "text", "text": "SD", "align": "left", "baseline": "alphabetic", "fontSize": 13.5, "fontWeight": "bold", "color": "#000000"},
   "encoding": {"x": {"datum": 210.6, "type": "quantitative", "scale": {"domain": [0, 250], "nice": false}, "axis": null},
                "y": {"datum": 2.07e18, "type": "quantitative", "scale": {"type": "log", "domain": [100, 1e18], "nice": false}, "axis": null}}}
 ]
}
